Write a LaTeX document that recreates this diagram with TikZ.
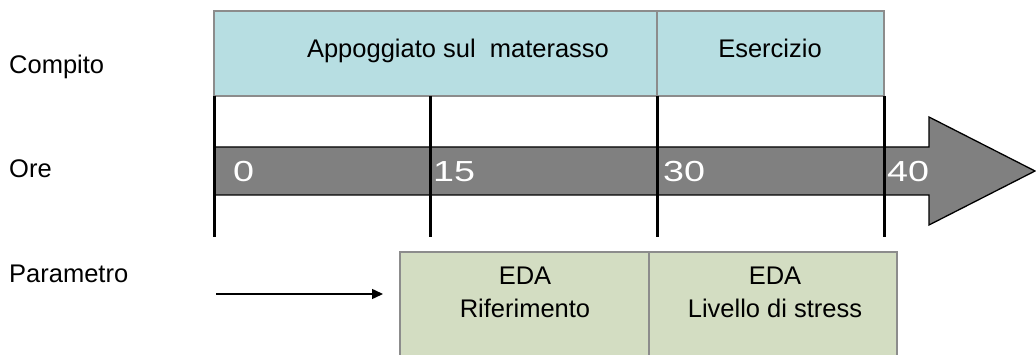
\documentclass[tikz,border=0pt]{standalone}
\usepackage{fontspec}
\setmainfont{Liberation Sans}
\usetikzlibrary{arrows.meta}
\definecolor{taskfill}{HTML}{B7DEE2}
\definecolor{parfill}{HTML}{D3DDC2}
\definecolor{boxline}{HTML}{8C8C8C}
\definecolor{barfill}{HTML}{808080}
\tikzset{
  lbl/.style={anchor=base west, inner sep=0pt, font=\fontsize{25.5}{30}\selectfont},
  ctxt/.style={anchor=base, inner sep=0pt, font=\fontsize{25.5}{30}\selectfont},
  num/.style={anchor=base west, inner sep=0pt, text=white, font=\fontsize{29}{32}\selectfont},
  taskbox/.style={draw=boxline, line width=1.6pt, fill=taskfill},
  parbox/.style={draw=boxline, line width=1.6pt, fill=parfill},
  tick/.style={line width=3pt, black},
  bar/.style={draw=black, line width=1.3pt, fill=barfill, line join=miter},
}
\newcommand{\wide}[1]{\scalebox{1.3}[1]{#1}}
\begin{document}
\begin{tikzpicture}[x=1pt,y=-1pt]
\useasboundingbox (0,0) rectangle (1036,355);
% task boxes
\path[taskbox] (214,11) rectangle (657,96);
\path[taskbox] (657,11) rectangle (884,96);
\node[ctxt] (t1) at (458,58) {Appoggiato sul \ materasso};
\node[ctxt] (t2) at (770,58) {Esercizio};
% time bar
\path[bar] (214,147) -- (929,147) -- (929,117) -- (1035,171) -- (929,225) -- (929,195) -- (214,195) -- cycle;
% ticks
\foreach \x in {214,430,657,884} \draw[tick] (\x,96) -- (\x,237);
\node[num] (n0) at (233,182) {\wide{0}};
\node[num] (n15) at (433,182) {\wide{15}};
\node[num] (n30) at (663,182) {\wide{30}};
\node[num] (n40) at (887,182) {\wide{40}};
% parameter boxes
\path[parbox] (400,252) rectangle (649,360);
\path[parbox] (649,252) rectangle (897,360);
\node[ctxt] (e1) at (525,285) {EDA};
\node[ctxt] (r1) at (525,318) {Riferimento};
\node[ctxt] (e2) at (775,285) {EDA};
\node[ctxt] (r2) at (775,318) {Livello di stress};
% row labels
\node[lbl] (compito) at (9,74) {Compito};
\node[lbl] (ore) at (9,178) {Ore};
\node[lbl] (param) at (9,283) {Parametro};
% arrow
\coordinate (as) at (216,294);
\coordinate (ae) at (383,294);
\draw[line width=1.5pt, -{Triangle[length=11pt,width=10pt]}] (as) -- (ae);
\end{tikzpicture}
\end{document}
